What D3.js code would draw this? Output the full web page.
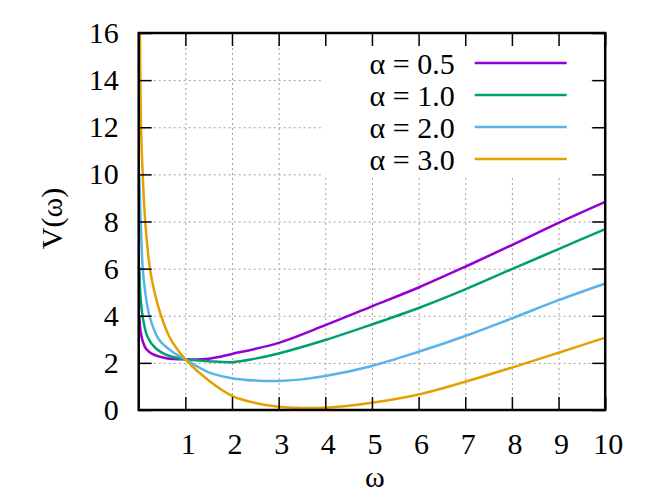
<html lang="en">

<head>
  <meta charset="UTF-8">
  <title>V(ω)</title>
  <script src="https://d3js.org/d3.v7.min.js"></script>
</head>

<style>
  body {
    margin: 0;
    background: #fff;
  }

  text {
    font-family: "Liberation Serif", "Times New Roman", Times, serif;
    font-size: 30px;
    fill: #000;
  }

  .gridlines line {
    stroke: #a0a0a0;
    stroke-width: 1;
    stroke-dasharray: 2, 3;
  }

  .gridlines .domain {
    stroke: none;
  }

  .ticks line {
    stroke: #000;
    stroke-width: 1.5;
  }

  .ticks .domain {
    stroke: none;
  }
</style>

<body>
  <svg class="vsvg" width="664" height="498"></svg>
  <script>
    // values: [omega, V]
    const seriesLabels = ['α = 0.5', 'α = 1.0', 'α = 2.0', 'α = 3.0'];
    const seriesColors = ['#9400d3', '#009e73', '#56b4e9', '#e69f00'];

    const curveA05 = [[0.014, 4.0], [0.043, 3.3], [0.086, 2.92], [0.157, 2.6], [0.3, 2.37], [0.59, 2.2],
      [1, 2.15], [1.5, 2.18], [2, 2.38], [3, 2.85], [4, 3.6], [5, 4.4], [6, 5.2], [7, 6.08], [8, 7.0],
      [9, 7.94], [10, 8.83]];
    const curveA10 = [[0.014, 6.07], [0.036, 4.9], [0.086, 3.95], [0.19, 3.1], [0.37, 2.61], [0.66, 2.29],
      [1, 2.15], [1.5, 2.07], [2, 2.03], [2.5, 2.18], [3, 2.4], [4, 2.97], [5, 3.63], [6, 4.33], [7, 5.12],
      [8, 5.98], [9, 6.83], [10, 7.68]];
    const curveA20 = [[0.014, 9.9], [0.043, 8], [0.086, 6], [0.14, 5], [0.23, 4], [0.43, 3], [0.7, 2.5],
      [1, 2.15], [1.5, 1.6], [2, 1.35], [2.5, 1.25], [3, 1.23], [3.5, 1.3], [4, 1.44], [5, 1.87], [6, 2.47],
      [7, 3.14], [8, 3.89], [9, 4.66], [10, 5.37]];
    const curveA30 = [[0.027, 16.5], [0.036, 14], [0.05, 12], [0.086, 10], [0.14, 8], [0.24, 6], [0.34, 5],
      [0.48, 4], [0.66, 3.1], [0.8, 2.65], [1, 2.15], [1.5, 1.25], [2, 0.6], [2.5, 0.3], [3, 0.14],
      [3.5, 0.09], [4, 0.1], [5, 0.31], [6, 0.66], [7, 1.2], [8, 1.8], [9, 2.43], [10, 3.07]];

    const xTicks = [1, 2, 3, 4, 5, 6, 7, 8, 9, 10];
    const yTicks = [0, 2, 4, 6, 8, 10, 12, 14, 16];
    const xTitle = 'ω';
    const yTitle = 'V(ω)';

    const allCurves = [curveA05, curveA10, curveA20, curveA30];

    const svg = d3.select('svg.vsvg');
    const margins = { top: 33, right: 58.8, bottom: 88, left: 138.7 };
    const chartWidth = 664 - margins.left - margins.right;
    const chartHeight = 498 - margins.top - margins.bottom;

    const xScale = d3.scaleLinear().domain([0, 10]).range([0, chartWidth]);
    const yScale = d3.scaleLinear().domain([0, 16]).range([chartHeight, 0]);

    const chartArea = svg.append('g')
      .attr('transform', `translate(${margins.left},${margins.top})`);

    chartArea.append('clipPath').attr('id', 'plotclip')
      .append('rect').attr('width', chartWidth).attr('height', chartHeight);

    // grid
    chartArea.append('g')
      .attr('class', 'x gridlines')
      .attr('transform', `translate(0,${chartHeight})`)
      .call(d3.axisBottom(xScale).tickValues(xTicks).tickSize(-chartHeight).tickFormat(''));
    chartArea.append('g')
      .attr('class', 'y gridlines')
      .call(d3.axisLeft(yScale).tickValues(yTicks).tickSize(-chartWidth).tickFormat(''));

    // opaque key box hides the grid behind it
    chartArea.append('rect')
      .attr('x', 182.5).attr('y', 0)
      .attr('width', 269).attr('height', 145)
      .attr('fill', '#fff');

    // curves
    const line = d3.line()
      .x(d => xScale(d[0]))
      .y(d => yScale(d[1]))
      .curve(d3.curveCatmullRom.alpha(0.5));

    allCurves.forEach((c, i) => {
      chartArea.append('path')
        .attr('d', line(c))
        .attr('clip-path', 'url(#plotclip)')
        .attr('fill', 'none')
        .attr('stroke', seriesColors[i])
        .attr('stroke-width', 2.5)
        .attr('stroke-linejoin', 'round');
    });

    // ticks, all pointing inwards, mirrored on top and right
    chartArea.append('g')
      .attr('class', 'ticks')
      .attr('transform', `translate(0,${chartHeight})`)
      .call(d3.axisBottom(xScale).tickValues(xTicks).tickSize(-13).tickFormat(''));
    chartArea.append('g')
      .attr('class', 'ticks')
      .call(d3.axisTop(xScale).tickValues(xTicks).tickSize(-13).tickFormat(''));
    chartArea.append('g')
      .attr('class', 'ticks')
      .call(d3.axisLeft(yScale).tickValues(yTicks).tickSize(-13).tickFormat(''));
    chartArea.append('g')
      .attr('class', 'ticks')
      .attr('transform', `translate(${chartWidth},0)`)
      .call(d3.axisRight(yScale).tickValues(yTicks).tickSize(-13).tickFormat(''));

    // tick labels
    xTicks.forEach(t => {
      chartArea.append('text')
        .attr('x', xScale(t) + 3)
        .attr('y', chartHeight + 44)
        .attr('text-anchor', 'middle')
        .text(t);
    });
    yTicks.forEach(t => {
      chartArea.append('text')
        .attr('x', -20)
        .attr('y', yScale(t) + 10)
        .attr('text-anchor', 'end')
        .text(t);
    });

    // border
    chartArea.append('rect')
      .attr('width', chartWidth).attr('height', chartHeight)
      .attr('fill', 'none')
      .attr('stroke', '#000')
      .attr('stroke-width', 2.5);

    // key
    seriesLabels.forEach((s, i) => {
      const yy = 30 + i * 32;
      chartArea.append('text')
        .attr('x', 316)
        .attr('y', yy + 11)
        .attr('text-anchor', 'end')
        .text(s);
      chartArea.append('line')
        .attr('x1', 336).attr('x2', 428)
        .attr('y1', yy).attr('y2', yy)
        .attr('stroke', seriesColors[i])
        .attr('stroke-width', 2.5);
    });

    // axis titles
    chartArea.append('text')
      .attr('x', chartWidth / 2 + 3)
      .attr('y', chartHeight + 77)
      .attr('text-anchor', 'middle')
      .text(xTitle);
    svg.append('text')
      .attr('transform', `translate(62,${margins.top + chartHeight / 2 - 3}) rotate(-90)`)
      .attr('text-anchor', 'middle')
      .text(yTitle);
  </script>
</body>

</html>
